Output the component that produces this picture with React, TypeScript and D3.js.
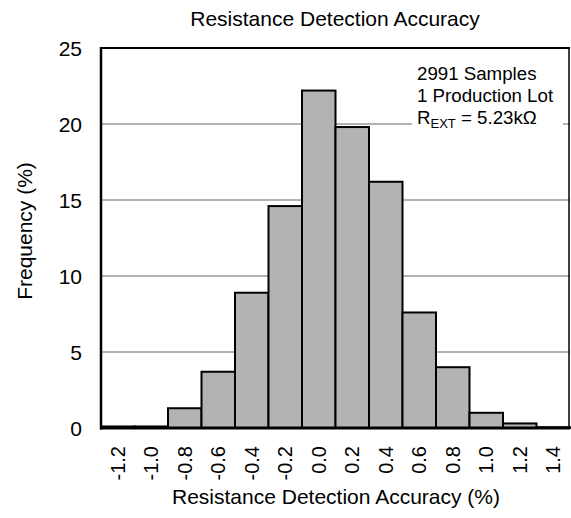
import { useEffect, useRef } from 'react';
import * as d3 from 'd3';

const bins = ['-1.2', '-1.0', '-0.8', '-0.6', '-0.4', '-0.2', '0.0', '0.2', '0.4', '0.6', '0.8', '1.0', '1.2', '1.4'];
const freq = [0.1, 0.1, 1.3, 3.7, 8.9, 14.6, 22.2, 19.8, 16.2, 7.6, 4.0, 1.0, 0.3, 0.05];
const yTicks = [0, 5, 10, 15, 20, 25];
const noteLines = ['2991 Samples', '1 Production Lot'];

const W = 571;
const H = 518;
const FONT = 'Arial, "Liberation Sans", sans-serif';

export default function App() {
  const svgRef = useRef<SVGSVGElement>(null);

  useEffect(() => {
    const svg = d3.select(svgRef.current);
    svg.selectAll('*').remove();

    const left = 101, right = 570, top = 48, bottom = 428;

    const x = d3.scaleBand<string>().domain(bins).range([left, right]).padding(0);
    const y = d3.scaleLinear().domain([0, 25]).range([bottom, top]);

    // gridlines
    svg.append('g')
      .selectAll('line')
      .data(yTicks.filter(t => t > 0 && t < 25))
      .join('line')
      .attr('x1', left).attr('x2', right)
      .attr('y1', d => y(d)).attr('y2', d => y(d))
      .attr('stroke', '#666').attr('stroke-width', 1);

    // note box, white behind the text so it breaks the 20% gridline
    svg.append('rect')
      .attr('x', 412).attr('y', 60).attr('width', 151).attr('height', 72)
      .attr('fill', '#fff');

    const note = svg.append('g').attr('font-family', FONT).attr('font-size', 18.7).attr('fill', '#000');
    noteLines.forEach((t, i) => {
      note.append('text').attr('x', 417).attr('y', 80 + i * 22).text(t);
    });
    const r = note.append('text').attr('x', 417).attr('y', 124);
    r.append('tspan').text('R');
    r.append('tspan').attr('font-size', 13).attr('dy', 4).text('EXT');
    r.append('tspan').attr('dy', -4).text(' = 5.23kΩ');

    // bars
    svg.append('g')
      .selectAll('rect')
      .data(bins)
      .join('rect')
      .attr('x', d => x(d)!)
      .attr('width', x.bandwidth())
      .attr('y', (_, i) => y(freq[i]))
      .attr('height', (_, i) => bottom - y(freq[i]))
      .attr('fill', '#b3b3b3')
      .attr('stroke', '#000')
      .attr('stroke-width', 2);

    // frame
    svg.append('line').attr('x1', left).attr('x2', right).attr('y1', top).attr('y2', top)
      .attr('stroke', '#000').attr('stroke-width', 2);
    svg.append('line').attr('x1', right - 1).attr('x2', right - 1).attr('y1', top).attr('y2', bottom)
      .attr('stroke', '#000').attr('stroke-width', 1.5);
    svg.append('line').attr('x1', left).attr('x2', left).attr('y1', top - 1).attr('y2', bottom + 1.5)
      .attr('stroke', '#000').attr('stroke-width', 2.5);
    svg.append('line').attr('x1', left - 1).attr('x2', right).attr('y1', bottom).attr('y2', bottom)
      .attr('stroke', '#000').attr('stroke-width', 3);

    // y tick labels
    svg.append('g')
      .selectAll('text')
      .data(yTicks)
      .join('text')
      .attr('x', 82)
      .attr('y', d => y(d))
      .attr('dy', '0.36em')
      .attr('text-anchor', 'end')
      .attr('font-family', FONT)
      .attr('font-size', 21)
      .text(d => d);

    // x tick labels (rotated)
    svg.append('g')
      .selectAll('text')
      .data(bins)
      .join('text')
      .attr('transform', d => `translate(${x(d)! + x.bandwidth() / 2},446) rotate(-90)`)
      .attr('dy', '0.36em')
      .attr('text-anchor', 'end')
      .attr('font-family', FONT)
      .attr('font-size', 20)
      .text(d => d);

    // titles
    svg.append('text').attr('x', 335).attr('y', 26).attr('text-anchor', 'middle')
      .attr('font-family', FONT).attr('font-size', 21).text('Resistance Detection Accuracy');
    svg.append('text').attr('x', 336).attr('y', 504).attr('text-anchor', 'middle')
      .attr('font-family', FONT).attr('font-size', 21).text('Resistance Detection Accuracy (%)');
    svg.append('text').attr('transform', 'translate(32,231) rotate(-90)').attr('text-anchor', 'middle')
      .attr('font-family', FONT).attr('font-size', 21).text('Frequency (%)');
  }, []);

  return (
    <svg
      ref={svgRef}
      width={W}
      height={H}
      style={{ position: 'absolute', left: 0, top: 0, background: '#fff', display: 'block' }}
    />
  );
}
